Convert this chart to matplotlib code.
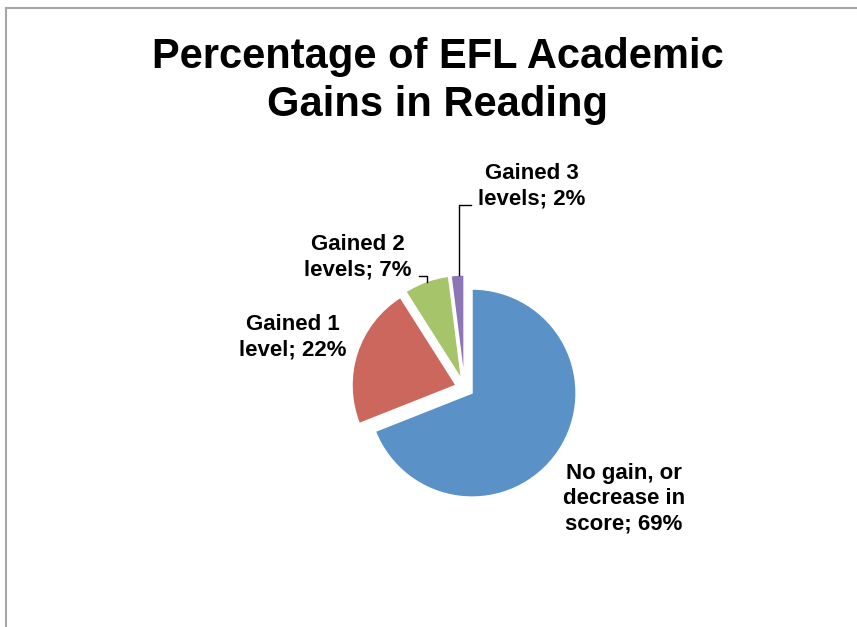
import numpy as np
import matplotlib
matplotlib.use("Agg")
import matplotlib.pyplot as plt
from matplotlib.lines import Line2D

plt.rcParams['font.family'] = ['Liberation Sans', 'DejaVu Sans']

# data
categories = ['No gain, or\ndecrease in\nscore', 'Gained 1\nlevel', 'Gained 2\nlevels', 'Gained 3\nlevels']
percents = [69, 22, 7, 2]
colors = ['#5A91C6', '#CB675C', '#A6C46A', '#8C76B6']

W, H = 857, 627
fig = plt.figure(figsize=(W / 100, H / 100), dpi=100)
ax = fig.add_axes([0, 0, 1, 1])

# work in pixel-like units, y up
cx, cy = 464.6, H - 388
radius = 104
# explode is applied in data units here
wedges, _ = ax.pie(percents, colors=colors, startangle=90, counterclock=False,
                   explode=[9] * 4, radius=radius, center=(cx, cy), frame=True,
                   wedgeprops=dict(edgecolor='white', linewidth=1))
ax.set_xlim(0, W)
ax.set_ylim(0, H)
ax.set_aspect('equal')
ax.axis('off')

# label positions (image px: x center, y middle)
label_pos = [(624, 499), (293, 337), (358, 257), (532, 186)]
for cat, p, (lx, ly) in zip(categories, percents, label_pos):
    ax.text(lx, H - ly, f'{cat}; {p}%', ha='center', va='center', multialignment='center',
            fontsize=16, fontweight='bold', linespacing=1.28)


def outer_mid(w):
    ang = np.deg2rad((w.theta1 + w.theta2) / 2)
    x0, y0 = w.center
    return x0 + w.r * np.cos(ang), y0 + w.r * np.sin(ang)


# leader lines for the small slices
gx, gy = outer_mid(wedges[2])
ax.plot([gx + 1, gx + 1, 419], [gy, H - 276, H - 276], color='black', lw=1)
px, py = outer_mid(wedges[3])
ax.plot([px + 1, px + 1, 471], [py, H - 205, H - 205], color='black', lw=1)

fig.text(438 / W, 1 - 81 / H, 'Percentage of EFL Academic\nGains in Reading', ha='center', va='center',
         fontsize=30, fontweight='bold', linespacing=1.25)

# chart border
fig.add_artist(Line2D([6 / W, 1], [1 - 8 / H, 1 - 8 / H], color='#A6A6A6', lw=1.5))
fig.add_artist(Line2D([6 / W, 6 / W], [0, 1 - 8 / H], color='#A6A6A6', lw=1.5))

fig.savefig('out.png', dpi=100)
